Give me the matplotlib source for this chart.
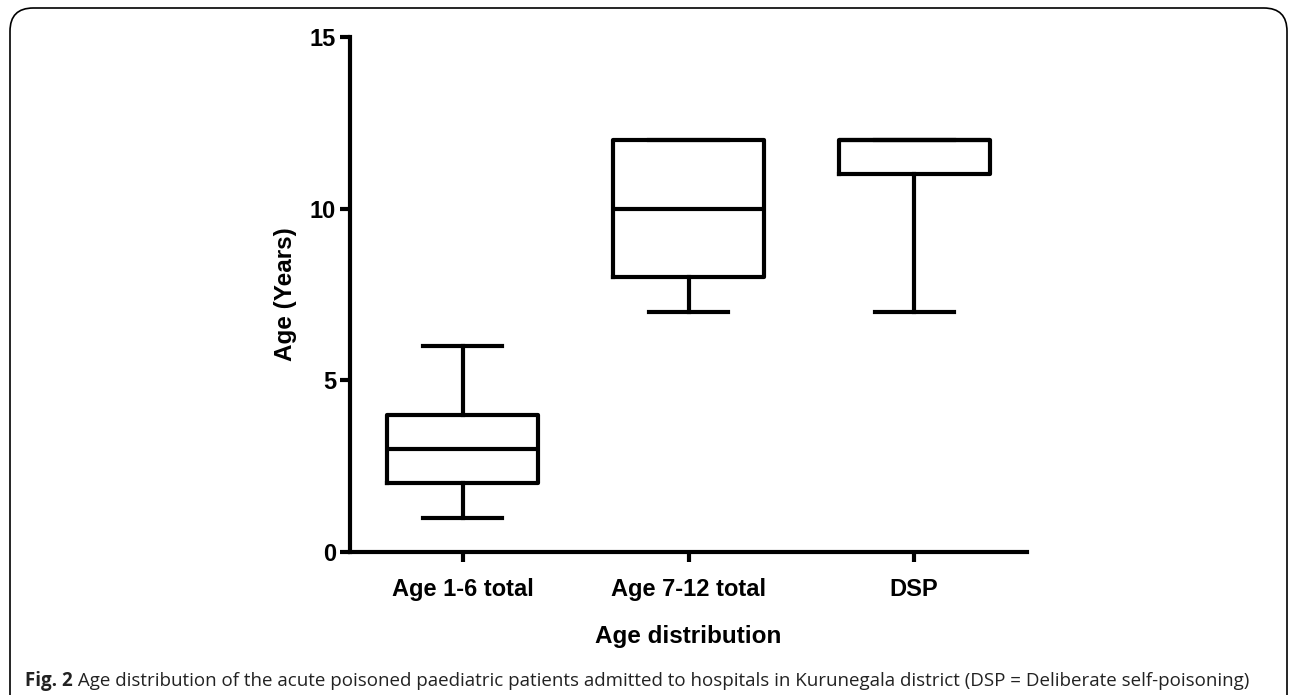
import matplotlib.pyplot as plt
from matplotlib.patches import FancyBboxPatch

# box summaries (years)
groups = ['Age 1-6 total', 'Age 7-12 total', 'DSP']
whisker_lo = [1, 7, 7]
q1 = [2, 8, 11]
median = [3, 10, 12]
q3 = [4, 12, 12]
whisker_hi = [6, 12, 12]
yticks = [0, 5, 10, 15]

caption_bold = 'Fig. 2'
caption_rest = (' Age distribution of the acute poisoned paediatric patients admitted to '
                'hospitals in Kurunegala district (DSP = Deliberate self-poisoning)')

fig = plt.figure(figsize=(12.9, 6.95), dpi=100)
ax = fig.add_axes([350 / 1290, 1 - 552 / 695, 677 / 1290, 515 / 695])

stats = []
for i in range(len(groups)):
    stats.append({'whislo': whisker_lo[i], 'q1': q1[i], 'med': median[i],
                  'q3': q3[i], 'whishi': whisker_hi[i], 'fliers': []})

lw = 3.0
ax.bxp(stats, positions=[1, 2, 3], widths=0.67, showfliers=False,
       boxprops=dict(linewidth=lw, color='black'),
       medianprops=dict(linewidth=lw, color='black', solid_capstyle='butt'),
       whiskerprops=dict(linewidth=lw, color='black'),
       capprops=dict(linewidth=lw, color='black'),
       capwidths=0.35)

ax.set_xlim(0.5, 3.5)
ax.set_ylim(0, 15)
ax.set_yticks(yticks)
ax.set_xticks([1, 2, 3])
ax.set_xticklabels(groups)
for s in ['top', 'right']:
    ax.spines[s].set_visible(False)
for s in ['left', 'bottom']:
    ax.spines[s].set_linewidth(lw)
ax.tick_params(width=lw, length=7, direction='out', pad=3)
for lab in ax.get_xticklabels() + ax.get_yticklabels():
    lab.set_fontfamily('Liberation Sans')
    lab.set_fontweight('bold')
    lab.set_fontsize(17)
ax.get_xaxis().set_tick_params(pad=12)

ax.set_ylabel('Age (Years)', fontfamily='Liberation Sans', fontweight='bold',
              fontsize=17.5)
ax.set_xlabel('Age distribution', fontfamily='Liberation Sans', fontweight='bold',
              fontsize=17.5)
ax.yaxis.set_label_coords(-0.096, 0.5)
ax.xaxis.set_label_coords(0.5, -0.165)
ax.yaxis.label.set_va('center')
ax.xaxis.label.set_va('center')

# frame around the figure, open at the bottom
frame = FancyBboxPatch((10 / 1290, -0.05), 1277 / 1290, 1.05 - 8 / 695,
                       boxstyle='round,pad=0,rounding_size=0.018',
                       transform=fig.transFigure, fill=False,
                       edgecolor='black', linewidth=1.2, mutation_aspect=1290 / 695)
fig.patches.append(frame)

t = fig.text(25 / 1290, 1 - 681 / 695, caption_bold, fontfamily='Open Sans',
             fontweight='bold', fontsize=13.5, va='center', color='#222222')
fig.canvas.draw()
bb = t.get_window_extent()
fig.text(bb.x1 / 1290, 1 - 681 / 695, caption_rest, fontfamily='Open Sans',
         fontsize=13.5, va='center', color='#222222')

fig.savefig('out.png', dpi=100)
